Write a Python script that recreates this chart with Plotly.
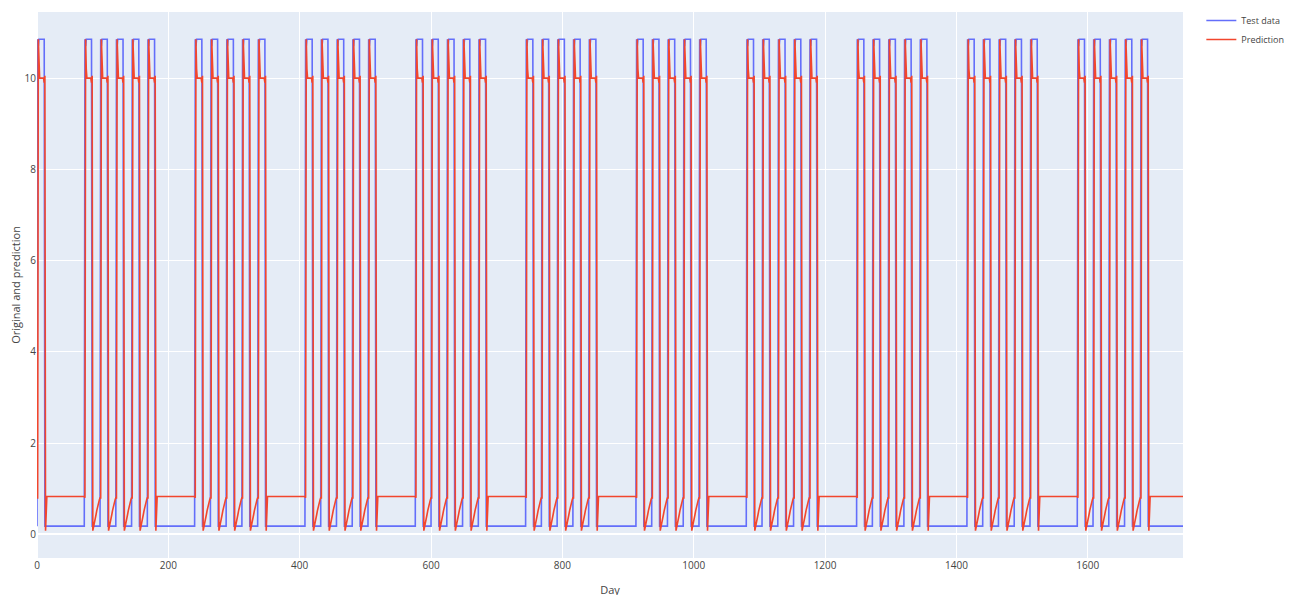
import numpy as np
import plotly.graph_objects as go

# ---- values (hourly samples, x axis labelled "Day") ----
n_points = 1746                 # x runs 0 .. 1745
first_monday_rise = 73          # first full work-week starts rising here
hours_per_day = 24
days_per_week = 7
work_days = 5

# Test data: one working day profile (hour 0 = rise), and the idle level
test_workday = [10.85, 10.7, 10.85, 10.85, 10.85, 10.85, 10.85, 10.85, 10.85, 10.85, 10.85,
                0.18, 0.18, 0.18, 0.18, 0.18, 0.18, 0.18, 0.18, 0.18, 0.18, 0.18, 0.18, 0.18]
test_idle = 0.18

# Prediction: working-day profile (followed by another working day)
pred_workday = [0.8, 10.85, 10.2, 10.0, 10.0, 10.0, 10.0, 10.0, 10.0, 10.0, 9.9, 10.05,
                0.08, 0.14, 0.2, 0.28, 0.36, 0.44, 0.52, 0.6, 0.66, 0.72, 0.76, 0.8]
# Prediction on the last working day (followed by the weekend)
pred_lastday = [0.8, 10.85, 10.2, 10.0, 10.0, 10.0, 10.0, 10.0, 10.0, 10.0, 9.9, 10.05,
                0.08, 0.83, 0.83, 0.83, 0.83, 0.83, 0.83, 0.83, 0.83, 0.83, 0.83, 0.83]
pred_idle = 0.83

x_ticks = [0, 200, 400, 600, 800, 1000, 1200, 1400, 1600]

# ---- assemble the series from the profiles ----
week_test = test_workday * work_days + [test_idle] * hours_per_day * (days_per_week - work_days)
week_pred = pred_workday * (work_days - 1) + pred_lastday + [pred_idle] * hours_per_day * (days_per_week - work_days)
week_len = hours_per_day * days_per_week

day = np.arange(n_points)
phase = (day - first_monday_rise) % week_len
test_data = np.array(week_test)[phase]
prediction = np.array(week_pred)[phase]

fig = go.Figure()
fig.add_trace(go.Scatter(x=day, y=test_data, mode="lines", name="Test data",
                         line=dict(color="#636EFA", width=1.6)))
fig.add_trace(go.Scatter(x=day, y=prediction, mode="lines", name="Prediction",
                         line=dict(color="#F2462D", width=1.6)))

fig.update_layout(
    template="plotly",
    width=1294, height=595,
    margin=dict(l=29, r=119, t=4, b=45, autoexpand=False),
    font=dict(family="Open Sans, Arial, sans-serif", size=11, color="#444"),
    legend=dict(x=1.016, y=1.011, font=dict(size=9)),
    xaxis=dict(title=dict(text="Day", font=dict(size=11)), tickvals=x_ticks,
               tickfont=dict(size=10)),
    yaxis=dict(title=dict(text="Original and prediction", font=dict(size=11)),
               tickfont=dict(size=10)),
)

fig.write_html("out.html")
